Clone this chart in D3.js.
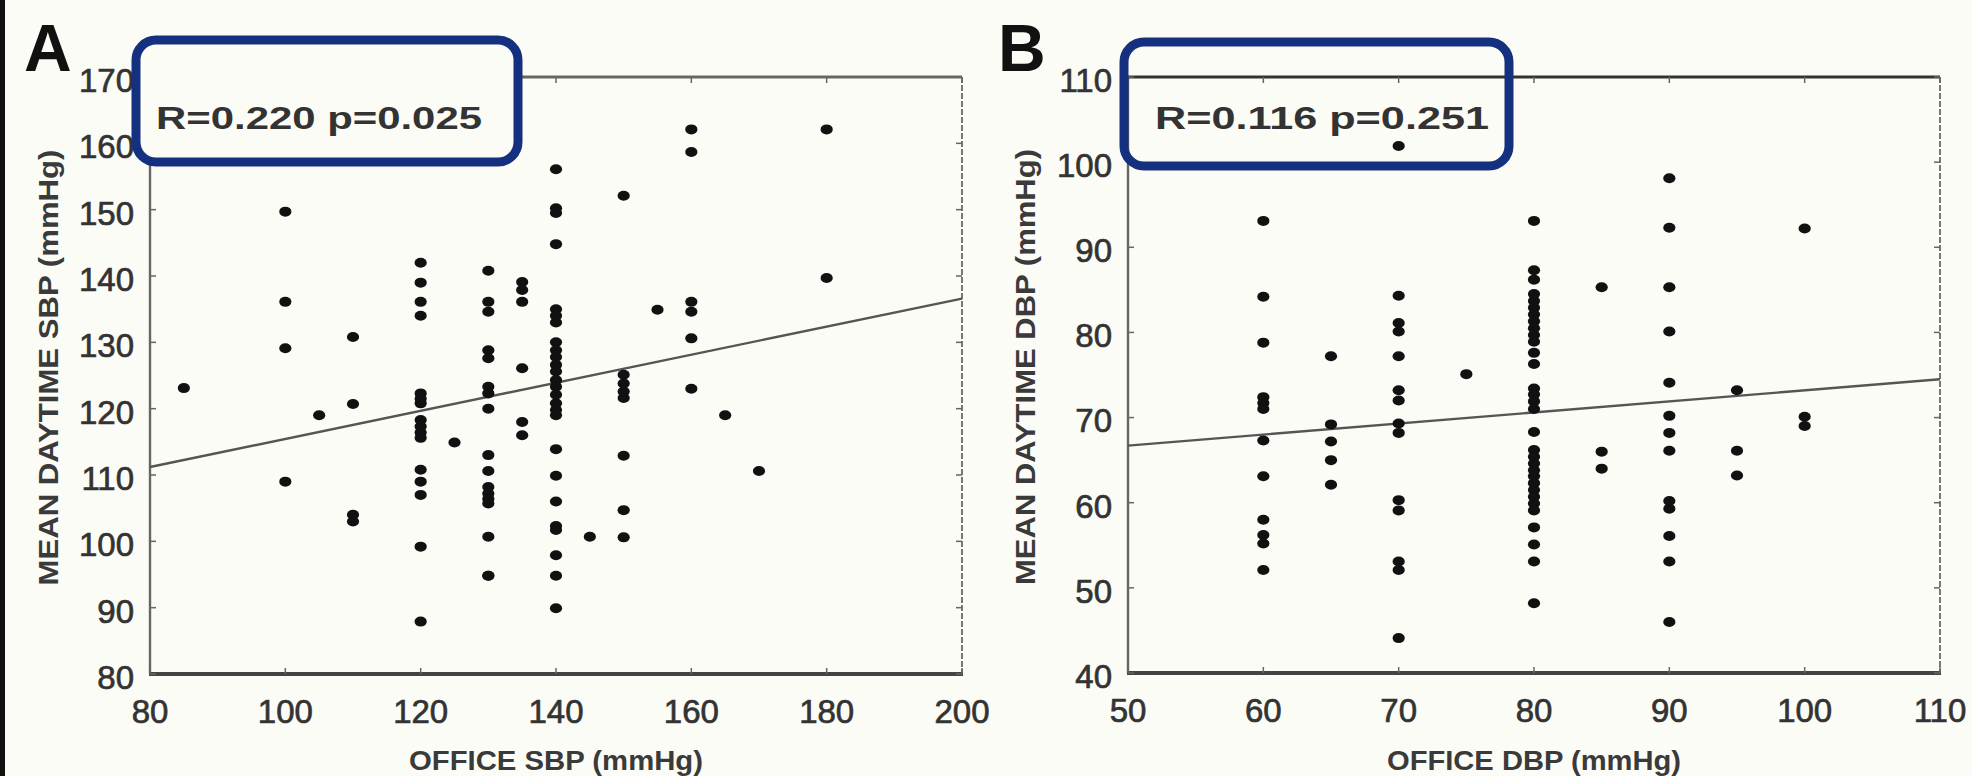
<!DOCTYPE html>
<html><head><meta charset="utf-8">
<script src="https://cdn.jsdelivr.net/npm/d3@7"></script>
<style>
html,body{margin:0;padding:0;background:#fcfcf6;}
svg{display:block;}
text{font-family:"Liberation Sans",Arial,sans-serif;}
</style></head>
<body>
<script>
// ---------- DATA ----------
// Panel A: office SBP vs mean daytime SBP
const sbpOffice = [
  85,
  100,100,100,100,
  105,
  110,110,110,110,
  120,120,120,120,120,120,120,120,120,120,120,120,120,120,120,120,
  125,
  130,130,130,130,130,130,130,130,130,130,130,130,130,130,130,130,130,
  135,135,135,135,135,135,
  140,140,140,140,140,140,140,140,140,140,140,140,140,140,140,140,140,140,140,140,140,140,140,140,140,140,
  145,
  150,150,150,150,150,150,150,150,
  155,
  160,160,160,160,160,160,
  165,
  170,
  180,180
];
const sbpDaytime = [
  123.1,
  149.7,136.1,129.1,109.0,
  119.0,
  130.8,120.7,104.0,103.0,
  142.0,139.0,136.1,134.0,122.3,121.5,120.8,118.3,117.3,116.4,115.6,110.8,109.0,107.0,99.2,87.9,
  114.9,
  140.8,136.1,134.6,128.8,127.6,123.3,122.3,120.0,113.0,110.6,108.2,107.2,106.4,105.7,100.7,94.8,94.8,
  139.1,137.9,136.1,126.1,118.0,116.0,
  156.1,150.2,149.5,144.8,135.0,134.0,133.0,130.0,128.8,127.8,126.6,125.6,124.3,123.3,122.1,120.8,119.8,119.0,113.9,109.9,106.0,102.3,101.7,97.9,94.8,89.9,
  100.7,
  152.1,125.1,123.8,122.6,121.6,112.9,104.7,100.6,
  134.9,
  162.1,158.7,136.1,134.6,130.6,123.0,
  119.0,
  110.6,
  162.1,139.7
];
const sbpFit = [[80,111.2],[200,136.6]];
const sbpXTicks = [80,100,120,140,160,180,200];
const sbpYTicks = [80,90,100,110,120,130,140,150,160,170];

// Panel B: office DBP vs mean daytime DBP
const dbpOffice = [
  60,60,60,60,60,60,60,60,60,60,60,60,
  65,65,65,65,65,
  70,70,70,70,70,70,70,70,70,70,70,70,70,70,
  75,
  80,80,80,80,80,80,80,80,80,80,80,80,80,80,80,80,80,80,80,80,80,80,80,80,80,80,80,80,80,80,80,80,
  85,85,85,
  90,90,90,90,90,90,90,90,90,90,90,90,90,
  95,95,95,
  100,100,100
];
const dbpDaytime = [
  93.1,84.2,78.8,72.4,71.7,71.0,67.3,63.1,58.0,56.2,55.2,52.1,
  77.2,69.2,67.2,65.0,62.1,
  101.9,84.3,81.1,80.1,77.2,73.2,72.0,69.3,68.2,60.3,59.1,53.1,52.1,44.1,
  75.1,
  93.1,87.3,86.2,84.5,83.7,82.9,82.1,81.3,80.5,79.7,78.9,77.6,76.3,73.4,72.7,71.9,71.0,68.3,66.2,65.4,64.6,63.8,63.1,62.3,61.5,60.7,59.9,59.1,57.1,55.1,53.1,48.2,
  85.3,66.0,64.0,
  98.1,92.3,85.3,80.1,74.1,70.2,68.2,66.1,60.2,59.3,56.1,53.1,46.0,
  73.2,66.1,63.2,
  92.2,70.1,69.0
];
const dbpFit = [[50,66.7],[110,74.5]];
const dbpXTicks = [50,60,70,80,90,100,110];
const dbpYTicks = [40,50,60,70,80,90,100,110];

const panels = [
  {letter:"A", xs:sbpOffice, ys:sbpDaytime, fit:sbpFit, xTicks:sbpXTicks, yTicks:sbpYTicks,
   xDom:[80,200], yDom:[80,170], xTitle:"OFFICE SBP (mmHg)", yTitle:"MEAN DAYTIME SBP (mmHg)",
   stat:"R=0.220 p=0.025"},
  {letter:"B", xs:dbpOffice, ys:dbpDaytime, fit:dbpFit, xTicks:dbpXTicks, yTicks:dbpYTicks,
   xDom:[50,110], yDom:[40,110], xTitle:"OFFICE DBP (mmHg)", yTitle:"MEAN DAYTIME DBP (mmHg)",
   stat:"R=0.116 p=0.251"}
];

// ---------- LAYOUT ----------
const W = 1972, H = 776;
const layout = [
  {left:150, right:962, top:77, bottom:674, letterX:24, boxX:136, boxY:40, boxW:382, boxH:122, statX:156, statW:326, boxFill:true, yTitleX:58},
  {left:1128, right:1940, top:77, bottom:673, letterX:998, boxX:1124, boxY:42, boxW:385, boxH:124, statX:1155, statW:334, boxFill:false, yTitleX:1035}
];

const svg = d3.select("body").append("svg").attr("width",W).attr("height",H);
svg.append("rect").attr("width",W).attr("height",H).attr("fill","#fcfcf6");
svg.append("rect").attr("x",0).attr("y",0).attr("width",5).attr("height",H).attr("fill","#111");

panels.forEach((p,i)=>{
  const L = layout[i];
  const x = d3.scaleLinear().domain(p.xDom).range([L.left, L.right]);
  const y = d3.scaleLinear().domain(p.yDom).range([L.bottom, L.top]);
  const g = svg.append("g");

  // frame
  g.append("line").attr("x1",L.left).attr("x2",L.left).attr("y1",L.top).attr("y2",L.bottom)
    .attr("stroke","#666").attr("stroke-width",2.4);
  g.append("line").attr("x1",L.right).attr("x2",L.right).attr("y1",L.top).attr("y2",L.bottom)
    .attr("stroke","#777").attr("stroke-width",2).attr("stroke-dasharray","6,2");
  g.append("line").attr("x1",L.left).attr("x2",L.right).attr("y1",L.top).attr("y2",L.top)
    .attr("stroke", i===1 ? "#333" : "#666").attr("stroke-width", i===1 ? 3 : 2.8);
  g.append("line").attr("x1",L.left-1).attr("x2",L.right+1).attr("y1",L.bottom).attr("y2",L.bottom)
    .attr("stroke","#444").attr("stroke-width",4);

  // inward ticks on all four sides
  p.xTicks.forEach(t=>{
    g.append("line").attr("x1",x(t)).attr("x2",x(t)).attr("y1",L.bottom).attr("y2",L.bottom-6).attr("stroke","#666").attr("stroke-width",1.5);
    g.append("line").attr("x1",x(t)).attr("x2",x(t)).attr("y1",L.top).attr("y2",L.top+6).attr("stroke","#666").attr("stroke-width",1.5);
  });
  p.yTicks.forEach(t=>{
    g.append("line").attr("x1",L.left).attr("x2",L.left+6).attr("y1",y(t)).attr("y2",y(t)).attr("stroke","#666").attr("stroke-width",1.5);
    g.append("line").attr("x1",L.right).attr("x2",L.right-6).attr("y1",y(t)).attr("y2",y(t)).attr("stroke","#666").attr("stroke-width",1.5);
  });

  // tick labels
  g.selectAll(".xt").data(p.xTicks).enter().append("text")
    .attr("x",d=>x(d)).attr("y",L.bottom+49).attr("text-anchor","middle")
    .attr("font-size",33).attr("fill","#333").attr("stroke","#333").attr("stroke-width",0.7).text(d=>d);
  g.selectAll(".yt").data(p.yTicks).enter().append("text")
    .attr("x",L.left-16).attr("y",d=>y(d)).attr("dy","0.45em").attr("text-anchor","end")
    .attr("font-size",33).attr("fill","#333").attr("stroke","#333").attr("stroke-width",0.7).text(d=>d);

  // axis titles
  g.append("text").attr("x",(L.left+L.right)/2).attr("y",770).attr("text-anchor","middle")
    .attr("font-size",27).attr("font-weight","bold").attr("fill","#3a3a3a")
    .attr("textLength",294).attr("lengthAdjust","spacingAndGlyphs").text(p.xTitle);
  g.append("text").attr("transform",`translate(${L.yTitleX},${(L.top+L.bottom)/2-8}) rotate(-90)`)
    .attr("text-anchor","middle").attr("font-size",27).attr("font-weight","bold").attr("fill","#3a3a3a")
    .attr("textLength",436).attr("lengthAdjust","spacingAndGlyphs").text(p.yTitle);

  // regression line
  g.append("line").attr("x1",x(p.fit[0][0])).attr("y1",y(p.fit[0][1]))
    .attr("x2",x(p.fit[1][0])).attr("y2",y(p.fit[1][1]))
    .attr("stroke","#555").attr("stroke-width",2.4);

  // points
  const pts = p.xs.map((v,k)=>({x:v,y:p.ys[k]}));
  g.selectAll(".pt").data(pts).enter().append("ellipse")
    .attr("cx",d=>x(d.x)).attr("cy",d=>y(d.y)).attr("rx",6.1).attr("ry",5).attr("fill","#111");

  // stat box
  g.append("rect").attr("x",L.boxX).attr("y",L.boxY).attr("width",L.boxW).attr("height",L.boxH)
    .attr("rx",20).attr("ry",20)
    .attr("fill", L.boxFill ? "#fcfcf6" : "none")
    .attr("stroke","#14307f").attr("stroke-width",9);
  g.append("text").attr("x",L.statX).attr("y",129).attr("font-size",32).attr("font-weight","bold")
    .attr("fill","#333").attr("textLength",L.statW).attr("lengthAdjust","spacingAndGlyphs").text(p.stat);

  // panel letter
  g.append("text").attr("x",L.letterX).attr("y",71).attr("font-size",66).attr("font-weight","bold")
    .attr("fill","#111").text(p.letter);
});
</script>
</body></html>
